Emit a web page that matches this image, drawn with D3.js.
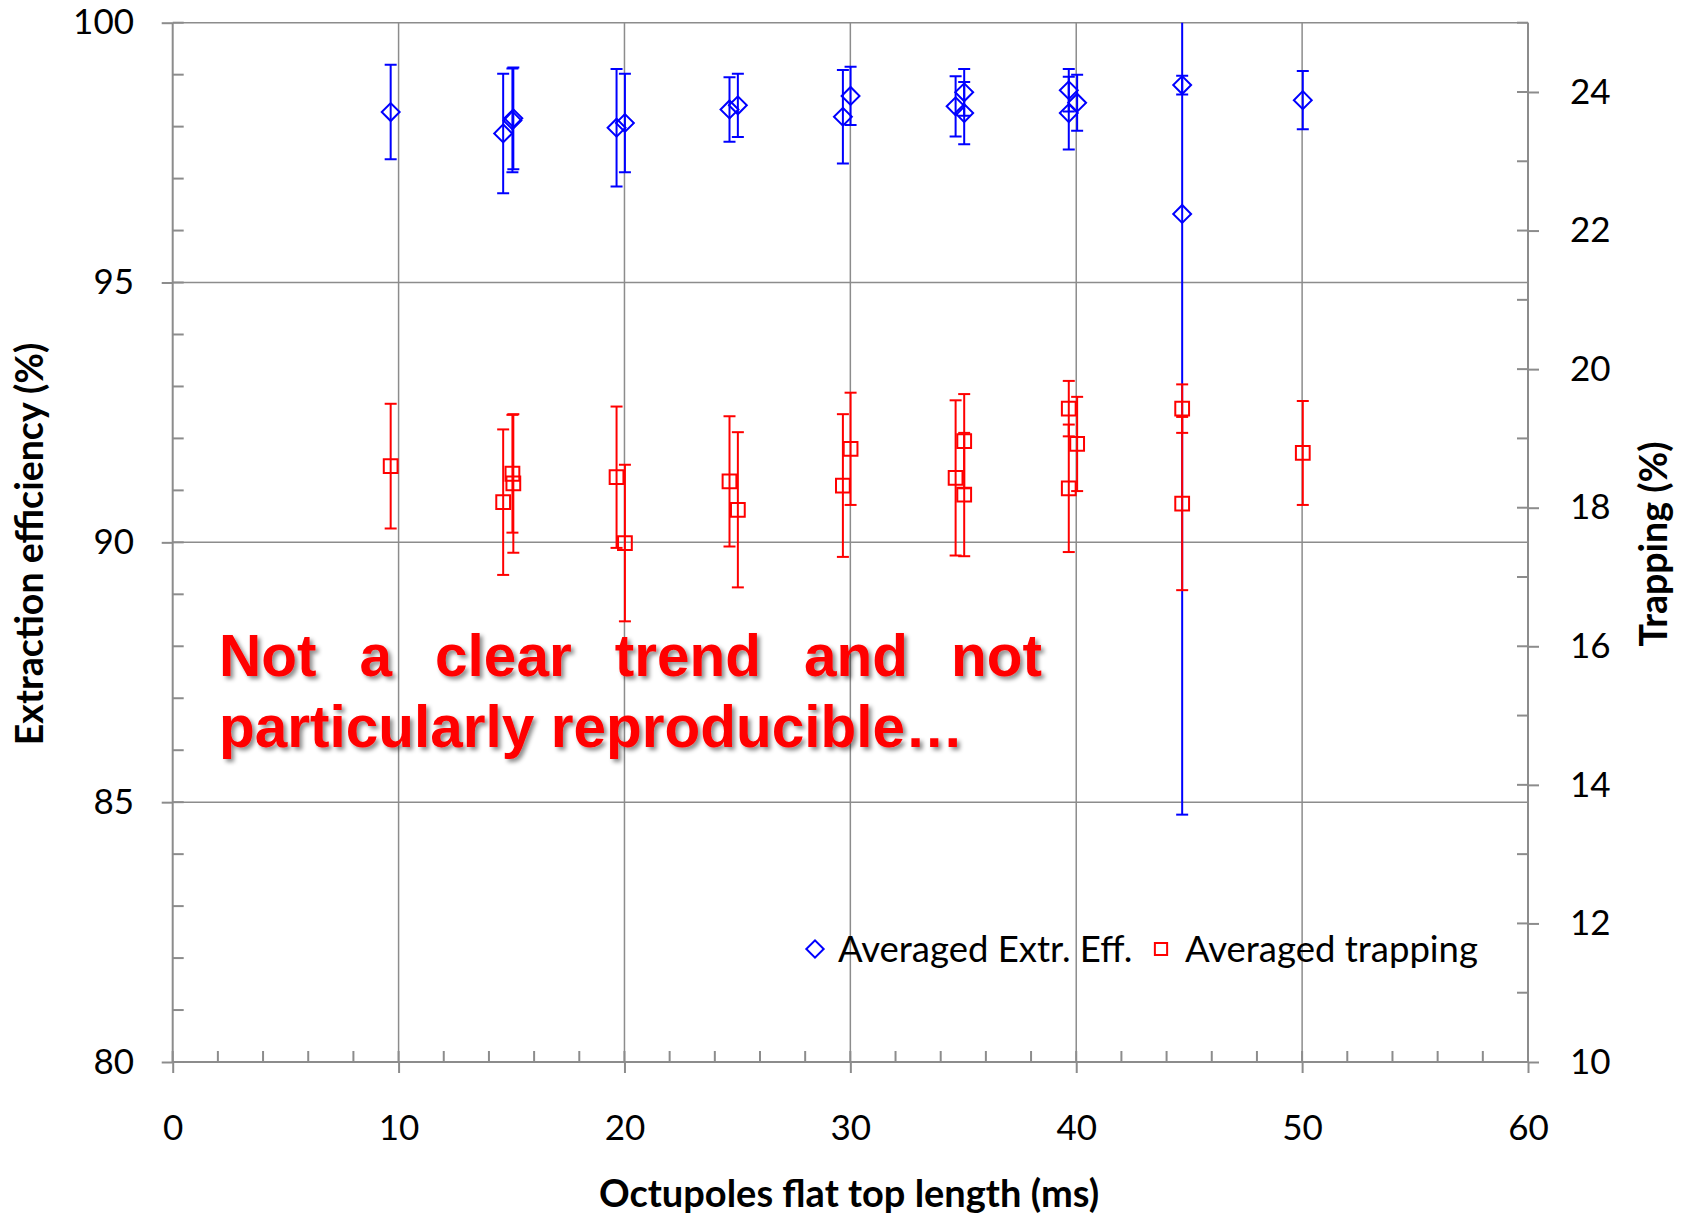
<!DOCTYPE html>
<html><head><meta charset="utf-8">
<script src="https://cdn.jsdelivr.net/npm/d3@7"></script>
<style>
html,body{margin:0;padding:0;background:#fff;}
svg{display:block;}
</style></head>
<body>
<svg id="chart" width="1689" height="1217"></svg>
<script>
// ---------- DATA ----------
const extrX   = [9.65, 14.63, 15.04, 15.08, 19.65, 20.02, 24.65, 25.02, 29.67, 30.01, 34.66, 35.04, 35.04, 39.67, 39.67, 40.04, 44.69, 44.69, 50.03];
const extrY   = [98.28, 97.87, 98.12, 98.16, 97.98, 98.07, 98.33, 98.41, 98.19, 98.59, 98.39, 98.66, 98.26, 98.70, 98.26, 98.46, 98.80, 96.32, 98.51];
const extrErr = [0.91, 1.15, 1.00, 0.98, 1.13, 0.95, 0.62, 0.61, 0.90, 0.56, 0.58, 0.45, 0.60, 0.41, 0.70, 0.54, 0.18, 11.56, 0.56];

const trapX   = [9.65, 14.63, 15.04, 15.08, 19.65, 20.02, 24.65, 25.02, 29.67, 30.01, 34.66, 35.04, 35.04, 39.67, 39.67, 40.04, 44.69, 44.69, 50.03];
const trapY   = [18.60, 18.08, 18.49, 18.35, 18.44, 17.49, 18.38, 17.97, 18.32, 18.85, 18.43, 18.96, 18.19, 19.43, 18.28, 18.92, 19.43, 18.06, 18.79];
const trapErr = [0.90, 1.05, 0.85, 1.00, 1.02, 1.13, 0.94, 1.12, 1.03, 0.81, 1.12, 0.68, 0.89, 0.40, 0.92, 0.68, 0.35, 1.25, 0.75];

const xTicks = [0, 10, 20, 30, 40, 50, 60];
const xMinor = [2, 4, 6, 8, 12, 14, 16, 18, 22, 24, 26, 28, 32, 34, 36, 38, 42, 44, 46, 48, 52, 54, 56, 58];
const leftTicks = [80, 85, 90, 95, 100];
const leftMinor = [81,82,83,84,86,87,88,89,91,92,93,94,96,97,98,99];
const rightTicks = [10, 12, 14, 16, 18, 20, 22, 24];
const rightMinor = [11, 13, 15, 17, 19, 21, 23, 25];

const seriesNames = ["Averaged Extr. Eff.", "Averaged trapping"];
const xTitle = "Octupoles flat top length (ms)";
const yLeftTitle = "Extraction efficiency (%)";
const yRightTitle = "Trapping (%)";
const noteLine1 = ["Not", "a", "clear", "trend", "and", "not"];
const noteLine2 = "particularly reproducible…";

// ---------- LAYOUT ----------
const L = 172.7, R = 1528, T = 22.7, B = 1062;
const x = d3.scaleLinear().domain([0, 60]).range([L, R]);
const yL = d3.scaleLinear().domain([80, 100]).range([B, T]);
const yR = d3.scaleLinear().domain([10, 25]).range([B, T]);

const svg = d3.select("#chart");
svg.append("rect").attr("width", 1689).attr("height", 1217).attr("fill", "#fff");

const defs = svg.append("defs");
defs.append("clipPath").attr("id", "plotclip")
  .append("rect").attr("x", L).attr("y", T).attr("width", R - L).attr("height", B - T);
const f = defs.append("filter").attr("id", "shadow").attr("x", "-10%").attr("y", "-20%").attr("width", "130%").attr("height", "150%");
f.append("feDropShadow").attr("dx", 3).attr("dy", 3).attr("stdDeviation", 2)
  .attr("flood-color", "#000").attr("flood-opacity", 0.45);

const gridColor = "#8c8c8c";
const font = "Lato, 'Open Sans', sans-serif";

// gridlines
const grid = svg.append("g");
grid.selectAll(".hg").data([85, 90, 95, 100]).join("line")
  .attr("x1", L).attr("x2", R).attr("y1", d => yL(d)).attr("y2", d => yL(d))
  .attr("stroke", gridColor).attr("stroke-width", 1.5);
grid.selectAll(".vg").data([10, 20, 30, 40, 50, 60]).join("line")
  .attr("x1", d => x(d)).attr("x2", d => x(d)).attr("y1", T).attr("y2", B)
  .attr("stroke", gridColor).attr("stroke-width", 1.5);

// axes
function styleAxis(g) {
  g.select(".domain").attr("stroke", gridColor).attr("stroke-width", 2);
  g.selectAll(".tick line").attr("stroke", gridColor).attr("stroke-width", 2);
  g.selectAll(".tick text").attr("font-family", font).attr("font-size", 35).attr("fill", "#000");
}

const gx = svg.append("g").attr("transform", `translate(0,${B})`)
  .call(d3.axisBottom(x).tickValues(xTicks).tickSizeOuter(0).tickSize(11).tickPadding(0).tickFormat(d3.format("d")));
styleAxis(gx);
gx.selectAll(".tick text").attr("y", 65).attr("dy", "0.36em");

const gyl = svg.append("g").attr("transform", `translate(${L},0)`)
  .call(d3.axisLeft(yL).tickValues(leftTicks).tickSizeOuter(0).tickSize(11).tickPadding(27.7).tickFormat(d3.format("d")));
styleAxis(gyl);

const gyr = svg.append("g").attr("transform", `translate(${R},0)`)
  .call(d3.axisRight(yR).tickValues(rightTicks).tickSizeOuter(0).tickSize(11).tickPadding(31).tickFormat(d3.format("d")));
styleAxis(gyr);
gyr.select(".domain").attr("d", `M0,${T}V${B}`);
gyl.select(".domain").attr("d", `M0,${T}V${B}`);
gx.select(".domain").attr("d", `M${L},0H${R}`);

// inner ticks (major crossing + minor inside)
const ticks = svg.append("g").attr("stroke", gridColor).attr("stroke-width", 2);
ticks.selectAll(".lt").data(leftTicks.concat(leftMinor)).join("line")
  .attr("x1", L).attr("x2", L + 11).attr("y1", d => yL(d)).attr("y2", d => yL(d));
ticks.selectAll(".rt").data(rightTicks.concat(rightMinor)).join("line")
  .attr("x1", R - 11).attr("x2", R).attr("y1", d => yR(d)).attr("y2", d => yR(d));
ticks.selectAll(".bt").data(xTicks.concat(xMinor)).join("line")
  .attr("x1", d => x(d)).attr("x2", d => x(d)).attr("y1", B - 11).attr("y2", B);

// ---------- SERIES ----------
const plot = svg.append("g").attr("clip-path", "url(#plotclip)");
function drawSeries(xs, ys, errs, yScale, color, symbolType, size, rotate) {
  const g = plot.append("g");
  const data = xs.map((xv, i) => ({x: xv, y: ys[i], e: errs[i]}));
  g.selectAll(".eb").data(data).join("line")
    .attr("x1", d => x(d.x)).attr("x2", d => x(d.x))
    .attr("y1", d => yScale(d.y + d.e)).attr("y2", d => yScale(d.y - d.e))
    .attr("stroke", color).attr("stroke-width", 2);
  g.selectAll(".capT").data(data).join("line")
    .attr("x1", d => x(d.x) - 6).attr("x2", d => x(d.x) + 6)
    .attr("y1", d => yScale(d.y + d.e)).attr("y2", d => yScale(d.y + d.e))
    .attr("stroke", color).attr("stroke-width", 2);
  g.selectAll(".capB").data(data).join("line")
    .attr("x1", d => x(d.x) - 6).attr("x2", d => x(d.x) + 6)
    .attr("y1", d => yScale(d.y - d.e)).attr("y2", d => yScale(d.y - d.e))
    .attr("stroke", color).attr("stroke-width", 2);
  g.selectAll(".mk").data(data).join("path")
    .attr("d", d3.symbol(symbolType, size))
    .attr("transform", d => `translate(${x(d.x)},${yScale(d.y)}) rotate(${rotate})`)
    .attr("fill", "none").attr("stroke", color).attr("stroke-width", 2);
}
drawSeries(extrX, extrY, extrErr, yL, "#0000ff", d3.symbolSquare, 160, 45);
drawSeries(trapX, trapY, trapErr, yR, "#ff0000", d3.symbolSquare, 190, 0);

// ---------- LEGEND ----------
const lg = svg.append("g").attr("font-family", font).attr("font-size", 36.5);
lg.append("path").attr("d", d3.symbol(d3.symbolSquare, 150))
  .attr("transform", "translate(815,949) rotate(45)")
  .attr("fill", "none").attr("stroke", "#0000ff").attr("stroke-width", 2);
lg.append("text").attr("x", 838).attr("y", 962).text(seriesNames[0]);
lg.append("path").attr("d", d3.symbol(d3.symbolSquare, 150))
  .attr("transform", "translate(1161,949)")
  .attr("fill", "none").attr("stroke", "#ff0000").attr("stroke-width", 2);
lg.append("text").attr("x", 1185).attr("y", 962).text(seriesNames[1]);

// ---------- TITLES ----------
svg.append("text").attr("x", 849).attr("y", 1207).attr("text-anchor", "middle")
  .attr("font-family", font).attr("font-weight", "bold").attr("font-size", 38).text(xTitle);
svg.append("text").attr("transform", "translate(43,544) rotate(-90)").attr("text-anchor", "middle")
  .attr("font-family", font).attr("font-weight", "bold").attr("font-size", 37.5).text(yLeftTitle);
svg.append("text").attr("transform", "translate(1667,544) rotate(-90)").attr("text-anchor", "middle")
  .attr("font-family", font).attr("font-weight", "bold").attr("font-size", 37.5).text(yRightTitle);

// ---------- ANNOTATION ----------
const note = svg.append("g").attr("font-family", "'Liberation Sans', Arial, sans-serif")
  .attr("font-weight", "bold").attr("font-size", 58.5).attr("fill", "#ff0000").attr("filter", "url(#shadow)");
const nx0 = 219, nx1 = 1042;
const words = note.selectAll(".w").data(noteLine1).join("text").attr("y", 676).text(d => d);
const widths = [];
words.each(function() { widths.push(this.getComputedTextLength()); });
const gap = (nx1 - nx0 - d3.sum(widths)) / (noteLine1.length - 1);
let cx = nx0;
words.each(function(d, i) { d3.select(this).attr("x", cx); cx += widths[i] + gap; });
note.append("text").attr("x", nx0).attr("y", 747).text(noteLine2);
</script>
</body></html>
